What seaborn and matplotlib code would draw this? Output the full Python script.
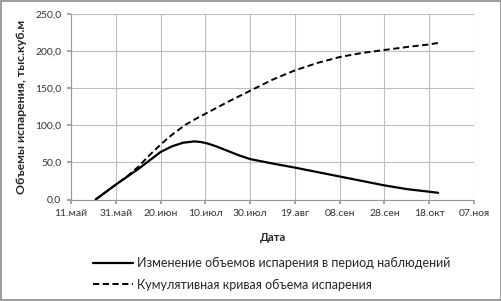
import matplotlib
matplotlib.use("Agg")
import matplotlib.pyplot as plt
import matplotlib.dates as mdates
from matplotlib.ticker import FixedLocator, FuncFormatter
import seaborn as sns
import pandas as pd

# --- data ---
change_dates = ["2015-05-22", "2015-05-31", "2015-06-10", "2015-06-20", "2015-06-25",
                "2015-06-30", "2015-07-05", "2015-07-08", "2015-07-11", "2015-07-15",
                "2015-07-20", "2015-07-25", "2015-07-30", "2015-08-09", "2015-08-19",
                "2015-08-29", "2015-09-08", "2015-09-18", "2015-09-28", "2015-10-08",
                "2015-10-18", "2015-10-22"]
change_vals = [0.0, 20.0, 41.0, 64.0, 71.5,
               76.5, 78.3, 77.5, 75.5, 71.5,
               65.5, 59.5, 54.5, 48.5, 43.0,
               37.0, 31.0, 25.0, 19.0, 14.0,
               10.5, 9.0]
cum_dates = ["2015-05-22", "2015-05-31", "2015-06-05", "2015-06-10", "2015-06-15",
             "2015-06-20", "2015-06-25", "2015-07-01", "2015-07-05", "2015-07-10",
             "2015-07-20", "2015-07-30", "2015-08-09", "2015-08-19", "2015-08-29",
             "2015-09-08", "2015-09-18", "2015-09-28", "2015-10-08", "2015-10-18",
             "2015-10-22"]
cum_vals = [0.0, 20.0, 31.0, 44.0, 59.5,
            74.0, 87.0, 100.5, 107.5, 115.5,
            131.5, 146.5, 161.5, 174.0, 184.0,
            192.0, 197.5, 201.5, 205.5, 209.0,
            211.0]
tick_dates = ["2015-05-11", "2015-05-31", "2015-06-20", "2015-07-10", "2015-07-30",
              "2015-08-19", "2015-09-08", "2015-09-28", "2015-10-18", "2015-11-07"]
tick_labels = ["11.май", "31.май", "20.июн", "10.июл", "30.июл",
               "19.авг", "08.сен", "28.сен", "18.окт", "07.ноя"]
y_ticks = [0, 50, 100, 150, 200, 250]

label_change = "Изменение объемов испарения в период наблюдений"
label_cum = "Кумулятивная кривая объема испарения"

sns.set_theme(style="white")
plt.rcParams["font.family"] = ["Lato", "DejaVu Sans"]

fig = plt.figure(figsize=(5.02, 3.01), dpi=100)
ax = fig.add_axes([71/502, 1-199.5/301, (474-71)/502, (199.5-14)/301])

df1 = pd.DataFrame({"date": pd.to_datetime(change_dates), "v": change_vals})
df2 = pd.DataFrame({"date": pd.to_datetime(cum_dates), "v": cum_vals})

sns.lineplot(data=df1, x="date", y="v", ax=ax, color="black", lw=1.6, label=label_change)
sns.lineplot(data=df2, x="date", y="v", ax=ax, color="black", lw=1.4,
             linestyle=(0, (3.2, 1.8)), label=label_cum)

tnum = [mdates.date2num(pd.Timestamp(d)) for d in tick_dates]
ax.set_xlim(tnum[0], tnum[-1])
ax.xaxis.set_major_locator(FixedLocator(tnum))
ax.set_xticklabels(tick_labels)
ax.set_ylim(0, 250)
ax.set_yticks(y_ticks)
ax.yaxis.set_major_formatter(FuncFormatter(lambda v, p: f"{v:.1f}".replace(".", ",")))

ax.grid(True, color="#bdbdbd", lw=0.8)
ax.set_axisbelow(True)
for s in ["top", "right"]:
    ax.spines[s].set_visible(False)
for s in ["left", "bottom"]:
    ax.spines[s].set_color("#999999")
    ax.spines[s].set_linewidth(0.8)
ax.tick_params(axis="both", which="both", length=3, color="#999999", labelsize=7.5,
               labelcolor="#333333", direction="out", bottom=True, left=True, pad=4)
ax.set_xlabel("Дата", fontsize=8, fontweight="bold", labelpad=10)
ax.set_ylabel("Объемы испарения, тыс.куб.м", fontsize=8.8, fontweight="bold", labelpad=6)

ax.legend_.remove()
handles, labels = ax.get_legend_handles_labels()
fig.legend(handles, labels, loc="upper left", bbox_to_anchor=(88/502, 1-252/301),
           frameon=False, fontsize=9, handlelength=3.2, handletextpad=0.3,
           labelspacing=0.75, borderaxespad=0)

fig.patches.append(plt.Rectangle((0.001, 0.002), 0.997, 0.995, transform=fig.transFigure,
                                 fill=False, edgecolor="#8c8c8c", lw=1.2))
fig.savefig("out.png", dpi=100)
